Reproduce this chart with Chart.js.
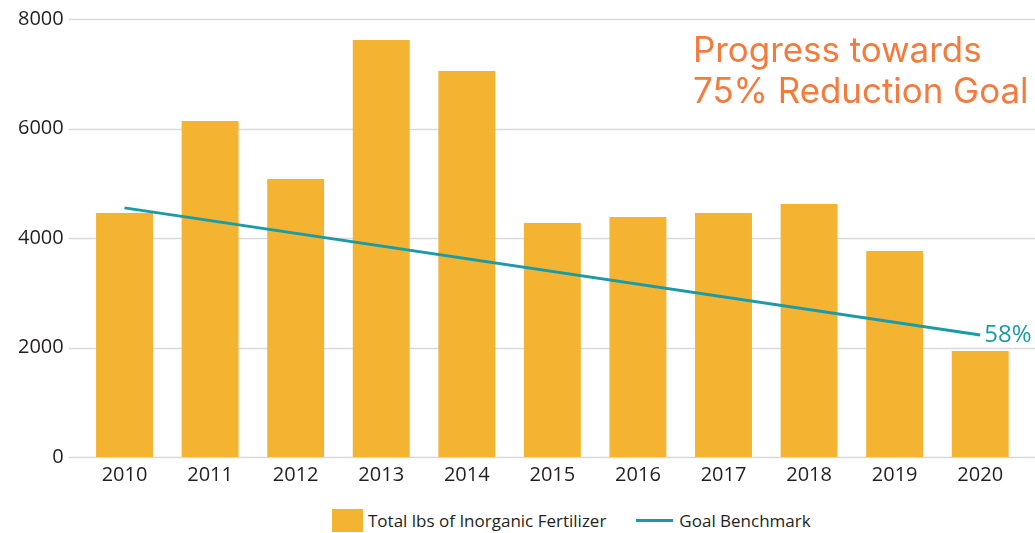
<!DOCTYPE html>
<html>
<head>
<meta charset="utf-8">
<script src="https://cdn.jsdelivr.net/npm/chart.js@4/dist/chart.umd.min.js"></script>
<style>
    html, body { margin: 0; padding: 0; background: #fff; }
    #wrap { position: relative; width: 1035px; height: 533px; overflow: hidden; }
    #chartBox { position: absolute; left: 0; top: -11px; width: 1035px; height: 506px; }
    #legend {
        position: absolute; left: 332px; top: 509px; height: 23px;
        display: flex; align-items: center;
        font-family: 'Open Sans', sans-serif; font-size: 17px; color: #231f20;
    }
    .swatch { width: 31px; height: 23px; background: #f4b331; margin-right: 5px; }
    .dash { width: 37px; height: 3px; background: #1a9ba8; margin-left: 30px; margin-right: 6px; }
</style>
</head>
<body>
<div id="wrap">
    <div id="chartBox"><canvas id="fertChart"></canvas></div>
    <div id="legend">
        <span class="swatch"></span><span>Total lbs of Inorganic Fertilizer</span>
        <span class="dash"></span><span>Goal Benchmark</span>
    </div>
</div>
<script>
// Chart data
const years = ['2010', '2011', '2012', '2013', '2014', '2015', '2016', '2017', '2018', '2019', '2020'];
const fertilizerLbs = [4457, 6137, 5078, 7616, 7050, 4274, 4384, 4457, 4621, 3763, 1936];
const goalBenchmark = [4550, null, null, null, null, null, null, null, null, null, 2230];
const yTicks = [0, 2000, 4000, 6000, 8000];
const endLabel = '58%';
const titleLines = ['Progress towards', '75% Reduction Goal'];

const textColor = '#231f20';
const barColor = '#f4b331';
const lineColor = '#1a9ba8';
const titleColor = '#f47b3e';

// Gridlines run a bit wider than the plot area
const gridPlugin = {
    id: 'wideGrid',
    beforeDatasetsDraw(chart) {
        const { ctx, scales } = chart;
        ctx.save();
        ctx.strokeStyle = '#d9d9d9';
        ctx.lineWidth = 1.5;
        yTicks.forEach((v) => {
            const y = Math.round(scales.y.getPixelForValue(v)) + 0.5;
            ctx.beginPath();
            ctx.moveTo(69, y);
            ctx.lineTo(chart.width, y);
            ctx.stroke();
        });
        ctx.restore();
    },
};

// Title text and the end label of the benchmark line
const notesPlugin = {
    id: 'notes',
    afterDatasetsDraw(chart) {
        const { ctx } = chart;
        ctx.save();
        ctx.fillStyle = titleColor;
        // fit the longer title line to about 336px
        ctx.font = '34px Inter, sans-serif';
        const w = ctx.measureText(titleLines[1]).width;
        const size = (34 * 336 / w).toFixed(1);
        ctx.font = `${size}px Inter, sans-serif`;
        ctx.textBaseline = 'alphabetic';
        ctx.textAlign = 'left';
        ctx.fillText(titleLines[0], 693, 73);
        ctx.fillText(titleLines[1], 693, 114);

        const pts = chart.getDatasetMeta(1).data;
        const last = pts[pts.length - 1];
        ctx.fillStyle = lineColor;
        ctx.font = '24px "Open Sans", sans-serif';
        ctx.textBaseline = 'middle';
        ctx.fillText(endLabel, last.x + 4, last.y);
        ctx.restore();
    },
};

const ctx = document.getElementById('fertChart');
new Chart(ctx.getContext('2d'), {
    type: 'bar',
    data: {
        labels: years,
        datasets: [
            {
                label: 'Total lbs of Inorganic Fertilizer',
                data: fertilizerLbs,
                backgroundColor: barColor,
                barPercentage: 0.665,
                categoryPercentage: 1,
                order: 2,
            },
            {
                type: 'line',
                label: 'Goal Benchmark',
                data: goalBenchmark,
                borderColor: lineColor,
                borderWidth: 3,
                pointRadius: 0,
                spanGaps: true,
                order: 1,
            },
        ],
    },
    options: {
        responsive: true,
        maintainAspectRatio: false,
        animation: false,
        layout: { padding: { top: 0, right: 12, bottom: 2, left: 0 } },
        plugins: {
            legend: { display: false },
            tooltip: { enabled: false },
        },
        scales: {
            x: {
                grid: { display: false, drawTicks: false },
                border: { display: false },
                ticks: {
                    color: textColor,
                    padding: 6,
                    font: { family: 'Open Sans', size: 20 },
                },
            },
            y: {
                min: 0,
                max: 8000,
                grid: { display: false, drawTicks: false },
                border: { display: false },
                afterBuildTicks: (scale) => {
                    scale.ticks = yTicks.map((v) => ({ value: v }));
                },
                ticks: {
                    color: textColor,
                    padding: 18,
                    font: { family: 'Open Sans', size: 20 },
                    callback: (value) => String(value),
                },
            },
        },
    },
    plugins: [gridPlugin, notesPlugin],
});
</script>
</body>
</html>
